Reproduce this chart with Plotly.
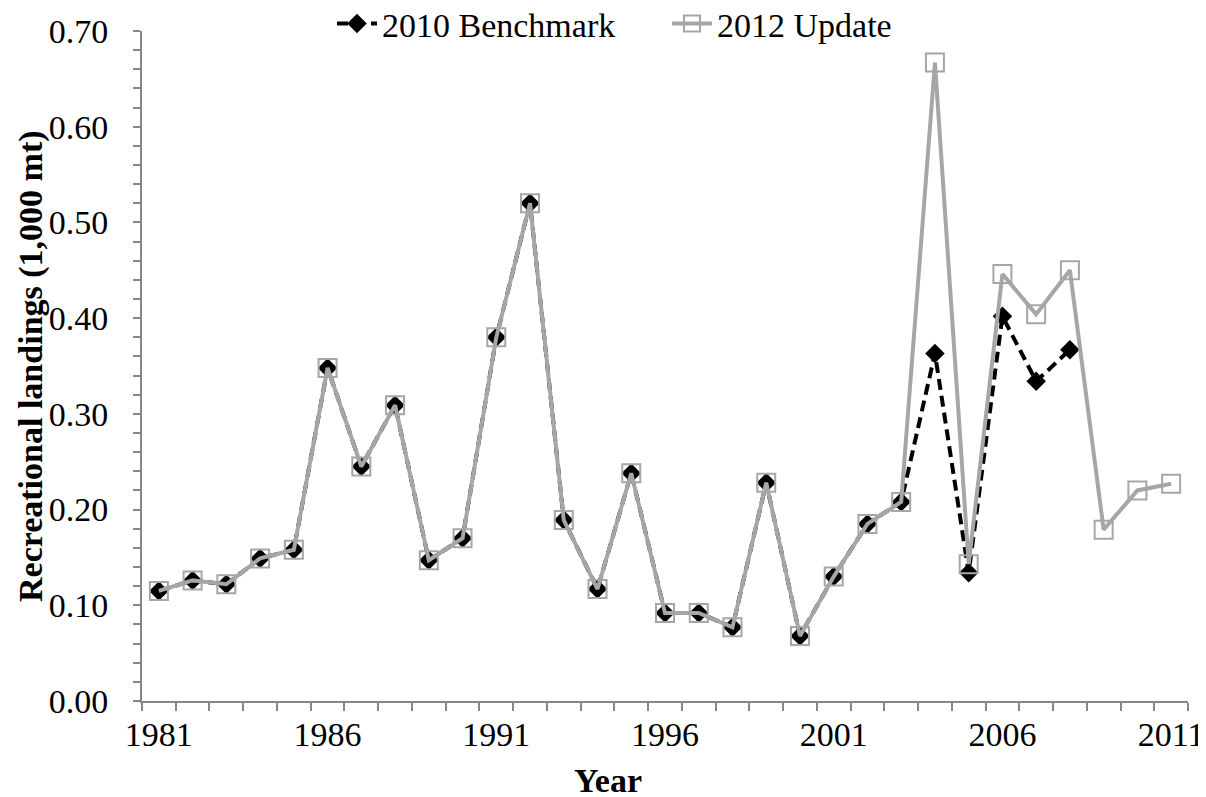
import plotly.graph_objects as go

years_benchmark = list(range(1981, 2009))
years_update = list(range(1981, 2012))

benchmark_2010 = [0.115, 0.126, 0.122, 0.149, 0.158, 0.348, 0.245, 0.309, 0.147, 0.170,
                  0.380, 0.520, 0.189, 0.117, 0.238, 0.092, 0.092, 0.077, 0.228, 0.068,
                  0.130, 0.185, 0.208, 0.363, 0.134, 0.402, 0.334, 0.367]
update_2012 = [0.115, 0.126, 0.122, 0.149, 0.158, 0.348, 0.245, 0.309, 0.147, 0.170,
               0.380, 0.520, 0.189, 0.117, 0.238, 0.092, 0.092, 0.077, 0.228, 0.068,
               0.130, 0.185, 0.208, 0.667, 0.143, 0.446, 0.404, 0.450, 0.179, 0.220,
               0.227]
x_tick_labels = [1981, 1986, 1991, 1996, 2001, 2006, 2011]

FONT = "Liberation Serif, Times New Roman, serif"
FS = 34
AXIS_COLOR = "#868686"
GRAY = "#A6A6A6"

fig = go.Figure()
fig.add_trace(go.Scatter(
    x=years_benchmark, y=benchmark_2010, name="2010 Benchmark",
    mode="lines+markers",
    line=dict(color="black", width=4, dash="11px,6px"),
    marker=dict(symbol="diamond", size=15, color="black"),
))
fig.add_trace(go.Scatter(
    x=years_update, y=update_2012, name="2012 Update",
    mode="lines+markers",
    line=dict(color=GRAY, width=4),
    marker=dict(symbol="square-open", size=18, color=GRAY, line=dict(width=2, color=GRAY)),
))

fig.update_layout(
    width=1206, height=797,
    margin=dict(l=134, r=26, t=23, b=104, autoexpand=False),
    plot_bgcolor="white", paper_bgcolor="white",
    font=dict(family=FONT, size=FS, color="black"),
    showlegend=True,
    legend=dict(
        orientation="h", xref="container", yref="container",
        x=324 / 1206, xanchor="left", y=1 - 16 / 797, yanchor="middle",
        font=dict(family=FONT, size=FS, color="black"), bgcolor="rgba(0,0,0,0)",
        itemwidth=40, entrywidth=280, entrywidthmode="pixels",
    ),
)
fig.update_xaxes(
    range=[1980.5, 2011.5], tickmode="array", tickvals=x_tick_labels,
    ticktext=[str(v) for v in x_tick_labels], ticks="", ticklabelstandoff=2,
    showline=True, linecolor=AXIS_COLOR, linewidth=2, showgrid=False, zeroline=False,
    minor=dict(ticks="outside", tickmode="linear", tick0=1980.5, dtick=1,
               ticklen=8, tickwidth=2, tickcolor=AXIS_COLOR, showgrid=False),
    tickfont=dict(family=FONT, size=FS),
)
fig.update_yaxes(
    range=[0, 0.7], tickmode="linear", tick0=0, dtick=0.1, tickformat=".2f",
    ticks="outside", ticklen=7, tickwidth=2, tickcolor=AXIS_COLOR, ticklabelstandoff=18,
    showline=True, linecolor=AXIS_COLOR, linewidth=2, showgrid=False, zeroline=False,
    minor=dict(ticks="outside", tickmode="linear", tick0=0, dtick=0.02,
               ticklen=7, tickwidth=2, tickcolor=AXIS_COLOR, showgrid=False),
    tickfont=dict(family=FONT, size=FS),
)
fig.add_annotation(text="<b>Year</b>", xref="paper", yref="paper",
                   x=(600 - 134) / 1046, y=-(772 - 693) / 670, xanchor="center", yanchor="middle",
                   showarrow=False, font=dict(family=FONT, size=FS))
fig.add_annotation(text="<b>Recreational landings (1,000 mt)</b>", xref="paper", yref="paper",
                   x=-(134 - 23) / 1046, y=(693 - 358) / 670, xanchor="center", yanchor="middle",
                   textangle=-90, showarrow=False, font=dict(family=FONT, size=FS))

fig.write_html("out.html")
